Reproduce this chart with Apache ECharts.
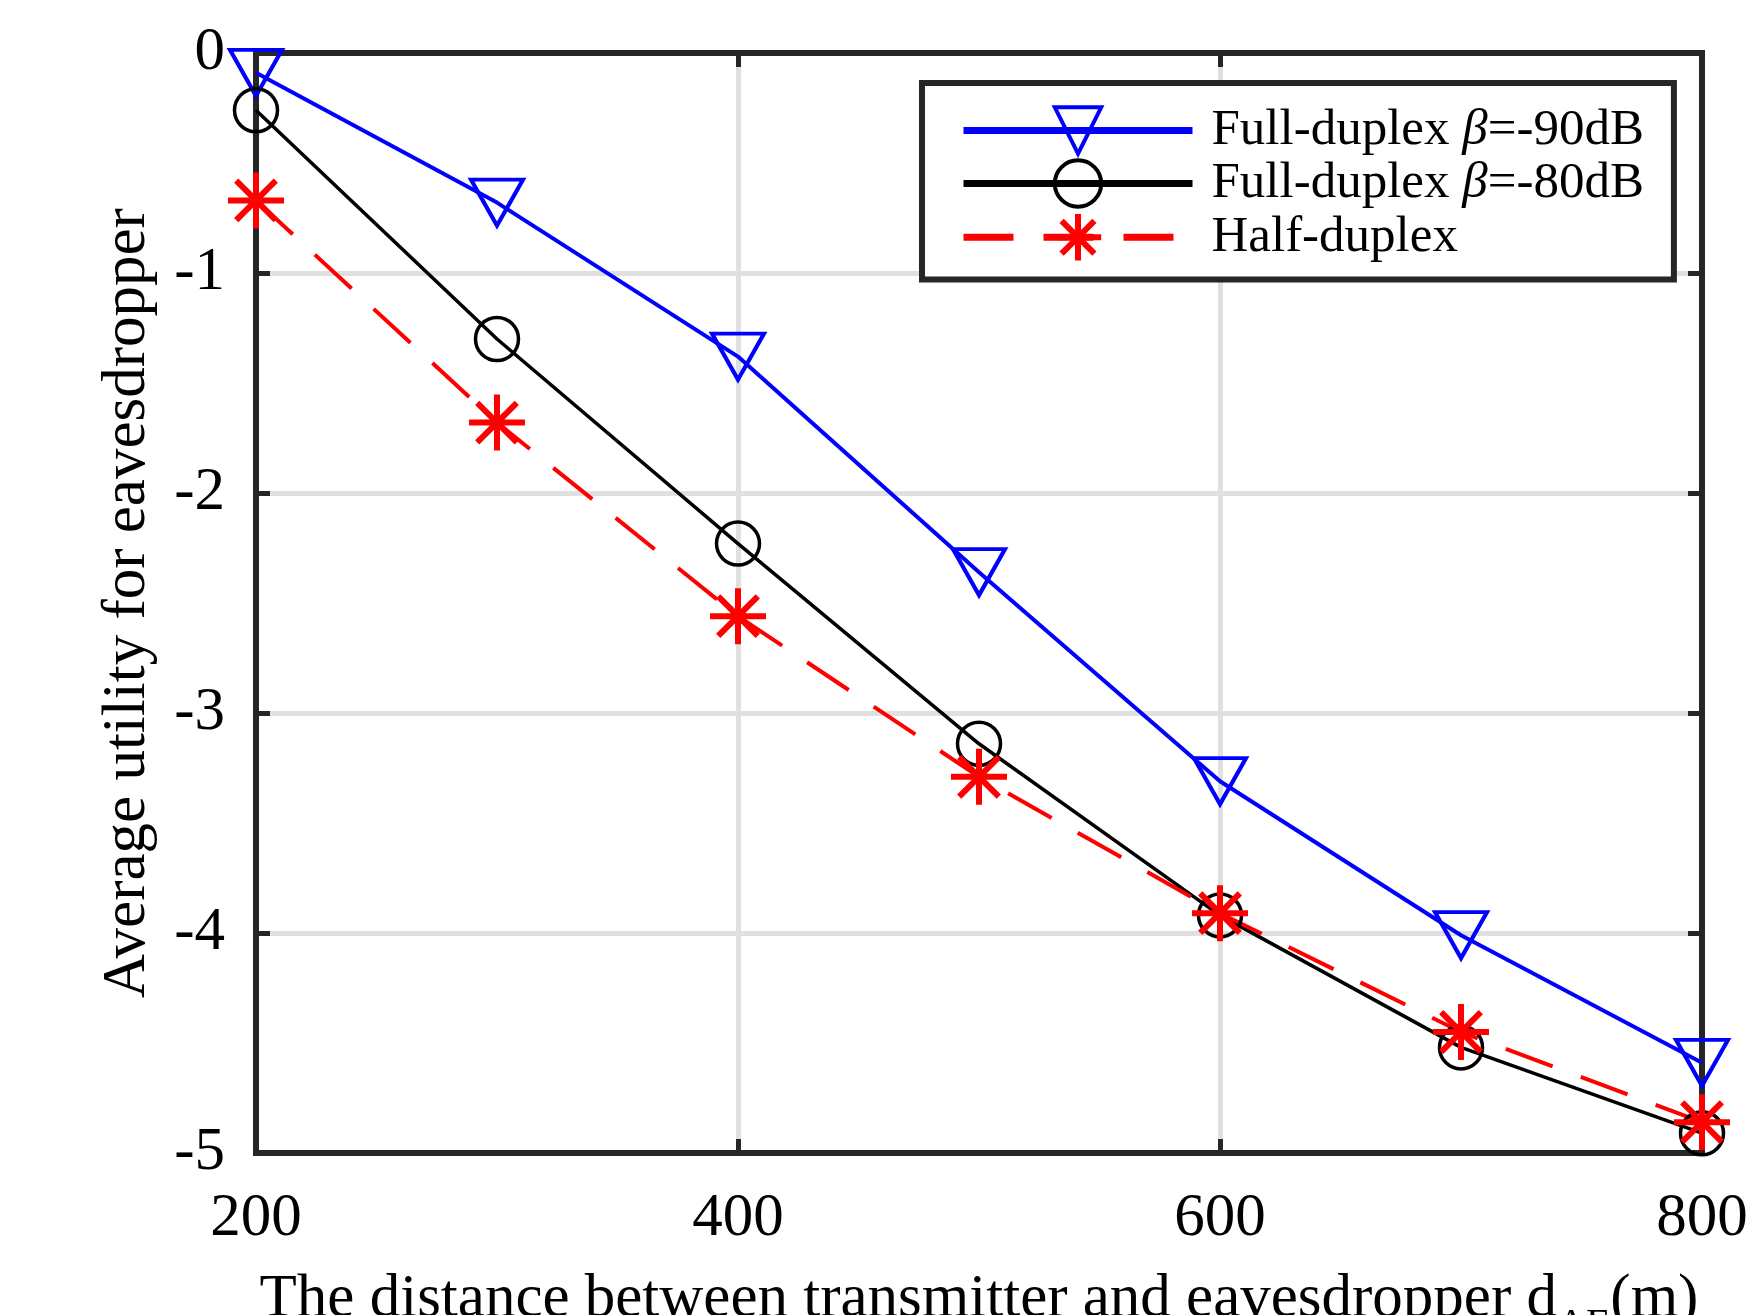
<!DOCTYPE html>
<html>
<head>
<meta charset="utf-8">
<script src="https://cdn.jsdelivr.net/npm/echarts@6/dist/echarts.min.js"></script>
<style>html,body{margin:0;padding:0;background:#fff;}#c{width:1763px;height:1315px;}</style>
</head>
<body>
<div id="c"></div>
<script>
const distances = [200, 300, 400, 500, 600, 700, 800];
const fullDuplex90 = [-0.09, -0.68, -1.38, -2.36, -3.31, -4.01, -4.59];
const fullDuplex80 = [-0.26, -1.30, -2.23, -3.14, -3.92, -4.52, -4.91];
const halfDuplex = [-0.67, -1.68, -2.56, -3.29, -3.91, -4.45, -4.86];
const seriesNames = ['Full-duplex β=-90dB', 'Full-duplex β=-80dB', 'Half-duplex'];
const xTicks = [200, 400, 600, 800];
const yTicks = [-5, -4, -3, -2, -1, 0];

const pairs = ys => distances.map((x, i) => [x, ys[i]]);
const FONT = '"Liberation Serif", "Times New Roman", serif';
const AXC = '#262626';
const starPath = 'path://M0,-10L0,10M-10,0L10,0M-7.07,-7.07L7.07,7.07M-7.07,7.07L7.07,-7.07';

const chart = echarts.init(document.getElementById('c'), null, {renderer: 'canvas'});
const baseX = {
  type: 'value', min: xTicks[0], max: xTicks[xTicks.length - 1], interval: 200,
  axisLine: {show: true, onZero: false, lineStyle: {color: AXC, width: 6}},
  axisTick: {show: true, inside: true, length: 14, lineStyle: {color: AXC, width: 5}},
};
const baseY = {
  type: 'value', min: yTicks[0], max: yTicks[yTicks.length - 1], interval: 1,
  axisLine: {show: true, onZero: false, lineStyle: {color: AXC, width: 6}},
  axisTick: {show: true, inside: true, length: 14, lineStyle: {color: AXC, width: 5}},
};
chart.setOption({
  animation: false,
  backgroundColor: '#fff',
  grid: {left: 256, right: 61, top: 53, bottom: 162, containLabel: false, outerBoundsMode: 'none',
    show: true, borderColor: AXC, borderWidth: 6, backgroundColor: 'transparent'},
  xAxis: [
    Object.assign({}, baseX, {
      position: 'bottom',
      axisLabel: {show: true, margin: 35, fontFamily: FONT, fontSize: 61, lineHeight: 61, color: '#000',
        formatter: v => xTicks.includes(v) ? String(v) : ''},
      splitLine: {show: true, lineStyle: {color: '#e0e0e0', width: 5}},
      name: '{a|The distance between transmitter and eavesdropper d}{s|AE}{a|(m)}',
      nameLocation: 'middle', nameGap: 94,
      nameTextStyle: {
        rich: {
          a: {fontFamily: FONT, fontSize: 61, lineHeight: 61, color: '#000'},
          s: {fontFamily: FONT, fontSize: 40, lineHeight: 61, color: '#000', padding: [52, 0, 0, 0]}
        }
      }
    }),
    Object.assign({}, baseX, {position: 'top', axisLabel: {show: false}, splitLine: {show: false}})
  ],
  yAxis: [
    Object.assign({}, baseY, {
      position: 'left',
      axisLabel: {show: true, margin: 31, fontFamily: FONT, fontSize: 61, color: '#000',
        formatter: v => String(v)},
      splitLine: {show: true, lineStyle: {color: '#e0e0e0', width: 5}},
      name: 'Average utility for eavesdropper',
      nameLocation: 'middle', nameGap: 98,
      nameTextStyle: {fontFamily: FONT, fontSize: 61, color: '#000'}
    }),
    Object.assign({}, baseY, {position: 'right', axisLabel: {show: false}, splitLine: {show: false}})
  ],
  legend: {
    orient: 'vertical', left: 922, top: 83,
    padding: [22, 30, 16, 38],
    backgroundColor: '#fff', borderColor: AXC, borderWidth: 6, borderRadius: 0,
    itemWidth: 229, itemHeight: 58, itemGap: 2,
    lineStyle: {width: 7},
    data: [
      {name: seriesNames[0], itemStyle: {borderWidth: 4}},
      {name: seriesNames[1], itemStyle: {borderWidth: 4}},
      {name: seriesNames[2], itemStyle: {borderWidth: 6}}
    ],
    formatter: name => {
      const m = name.match(/^(Full-duplex )β(=.*)$/);
      return m ? '{n|' + m[1] + '}{i|β}{n|' + m[2] + '}' : '{n|' + name + '}';
    },
    textStyle: {
      padding: [0, 0, 0, 14],
      rich: {
        n: {fontFamily: FONT, fontSize: 51, lineHeight: 56, color: '#000'},
        i: {fontFamily: FONT, fontSize: 51, lineHeight: 56, fontStyle: 'italic', color: '#000'}
      }
    }
  },
  series: [
    {
      name: seriesNames[0], type: 'line', data: pairs(fullDuplex90), clip: false,
      symbol: 'triangle', symbolRotate: 180, symbolSize: [52, 46],
      itemStyle: {color: 'rgba(0,0,0,0)', borderColor: '#0000ff', borderWidth: 4},
      lineStyle: {color: '#0000ff', width: 4}
    },
    {
      name: seriesNames[1], type: 'line', data: pairs(fullDuplex80), clip: false,
      symbol: 'circle', symbolSize: 43,
      itemStyle: {color: 'rgba(0,0,0,0)', borderColor: '#000000', borderWidth: 3.5},
      lineStyle: {color: '#000000', width: 3.5}
    },
    {
      name: seriesNames[2], type: 'line', data: pairs(halfDuplex), clip: false,
      symbol: starPath, symbolSize: 56,
      itemStyle: {color: 'rgba(0,0,0,0)', borderColor: '#ff0000', borderWidth: 6},
      lineStyle: {color: '#ff0000', width: 4, type: [50, 30]}
    }
  ]
});
</script>
</body>
</html>
